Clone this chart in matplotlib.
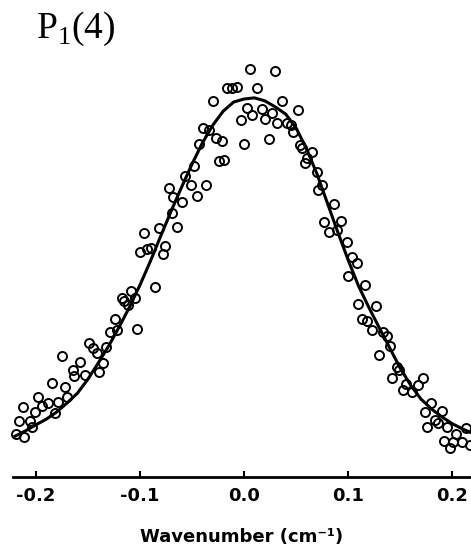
import numpy as np
import matplotlib
matplotlib.use("Agg")
import matplotlib.pyplot as plt

plt.rcParams['axes.unicode_minus'] = False
plt.rcParams['mathtext.fontset'] = 'custom'
plt.rcParams['mathtext.rm'] = 'Liberation Serif'

# measured line profile (open circles)
x_obs = [-0.219, -0.211, -0.204, -0.216, -0.206, -0.201, -0.182, -0.212, -0.194, -0.188,
         -0.179, -0.198, -0.170, -0.185, -0.172, -0.164, -0.163, -0.153, -0.139, -0.158,
         -0.136, -0.175, -0.149, -0.145, -0.141, -0.133, -0.129, -0.122, -0.124, -0.103,
         -0.112, -0.117, -0.115, -0.109, -0.105, -0.086, -0.100, -0.093, -0.089, -0.076,
         -0.078, -0.096, -0.082, -0.064, -0.069, -0.060, -0.068, -0.045, -0.072, -0.051,
         -0.037, -0.057, -0.048, -0.024, -0.019, -0.043, -0.027, -0.021, -0.039, -0.034,
         -0.030, -0.016, -0.012, -0.007, -0.000, -0.003, 0.006, 0.030, 0.012, 0.036,
         0.003, 0.008, 0.017, 0.020, 0.027, 0.052, 0.032, 0.041, 0.045, 0.047,
         0.024, 0.054, 0.056, 0.065, 0.060, 0.059, 0.070, 0.075, 0.071, 0.086,
         0.077, 0.093, 0.082, 0.089, 0.099, 0.104, 0.108, 0.100, 0.116, 0.109,
         0.127, 0.113, 0.118, 0.123, 0.133, 0.137, 0.140, 0.130, 0.147, 0.149,
         0.142, 0.172, 0.156, 0.153, 0.167, 0.161, 0.180, 0.174, 0.190, 0.183,
         0.186, 0.195, 0.176, 0.213, 0.204, 0.192, 0.201, 0.209, 0.198, 0.217]
y_obs = [0.114, 0.106, 0.132, 0.148, 0.148, 0.172, 0.169, 0.185, 0.188, 0.196,
         0.198, 0.212, 0.212, 0.249, 0.238, 0.283, 0.267, 0.270, 0.278, 0.304,
         0.302, 0.320, 0.354, 0.341, 0.328, 0.344, 0.384, 0.389, 0.418, 0.392,
         0.455, 0.474, 0.466, 0.492, 0.474, 0.503, 0.595, 0.603, 0.606, 0.611,
         0.590, 0.646, 0.659, 0.661, 0.698, 0.728, 0.741, 0.743, 0.765, 0.772,
         0.772, 0.796, 0.823, 0.836, 0.839, 0.881, 0.897, 0.889, 0.923, 0.918,
         0.995, 1.029, 1.029, 1.032, 0.881, 0.944, 1.079, 1.074, 1.029, 0.995,
         0.976, 0.958, 0.974, 0.947, 0.963, 0.971, 0.937, 0.937, 0.931, 0.913,
         0.894, 0.878, 0.870, 0.860, 0.844, 0.831, 0.807, 0.773, 0.759, 0.722,
         0.675, 0.677, 0.648, 0.653, 0.622, 0.582, 0.566, 0.532, 0.508, 0.458,
         0.452, 0.418, 0.413, 0.389, 0.384, 0.373, 0.347, 0.323, 0.291, 0.283,
         0.262, 0.262, 0.246, 0.230, 0.243, 0.225, 0.196, 0.172, 0.175, 0.151,
         0.143, 0.132, 0.132, 0.130, 0.114, 0.095, 0.093, 0.093, 0.077, 0.085]

# fitted profile (solid line)
x_fit = [-0.22, -0.21, -0.20, -0.19, -0.18, -0.17, -0.16, -0.15, -0.14, -0.13, -0.12,
         -0.11, -0.10, -0.09, -0.08, -0.07, -0.06, -0.05, -0.04, -0.03, -0.02, -0.01,
         0.00, 0.01, 0.02, 0.03, 0.04, 0.05, 0.06, 0.07, 0.08, 0.09, 0.10, 0.11,
         0.12, 0.13, 0.14, 0.15, 0.16, 0.17, 0.18, 0.19, 0.20, 0.21, 0.22]
y_fit = [0.108, 0.122, 0.138, 0.153, 0.172, 0.196, 0.222, 0.259, 0.302, 0.347, 0.397,
         0.450, 0.508, 0.571, 0.638, 0.704, 0.767, 0.828, 0.884, 0.931, 0.968, 0.992,
         1.000, 1.003, 0.995, 0.979, 0.960, 0.923, 0.868, 0.802, 0.725, 0.648, 0.574, 0.505,
         0.448, 0.394, 0.341, 0.288, 0.243, 0.206, 0.180, 0.159, 0.141, 0.127, 0.115]

xticks = [-0.2, -0.1, 0.0, 0.1, 0.2]
xtick_labels = ["-0.2", "-0.1", "0.0", "0.1", "0.2"]

fig = plt.figure(figsize=(4.71, 5.48), dpi=100)
ax = fig.add_axes([13 / 471, 71 / 548, 1 - 13 / 471, 422 / 548])

ax.plot(x_obs, y_obs, 'o', ms=6.5, mfc='none', mec='black', mew=1.4, clip_on=False)
ax.plot(x_fit, y_fit, '-', color='black', lw=2.2)

ax.set_xlim(-0.222, 0.218)
ax.set_ylim(0, 422 / 378)

for s in ['top', 'left', 'right']:
    ax.spines[s].set_visible(False)
ax.spines['bottom'].set_linewidth(2.0)
ax.set_yticks([])
ax.set_xticks(xticks)
ax.set_xticklabels(xtick_labels, fontsize=13, fontweight='bold', family='DejaVu Sans')
ax.tick_params(axis='x', direction='in', length=4, width=1.5, pad=7)
ax.set_xlabel('Wavenumber (cm\u207b\u00b9)', fontsize=13, fontweight='bold',
              family='DejaVu Sans', labelpad=17)

fig.text(36 / 471, 1 - 38 / 548, r'P$_{\mathrm{1}}$(4)', fontsize=27,
         family='Liberation Serif', va='baseline', ha='left')

fig.savefig('out.png', dpi=100)
